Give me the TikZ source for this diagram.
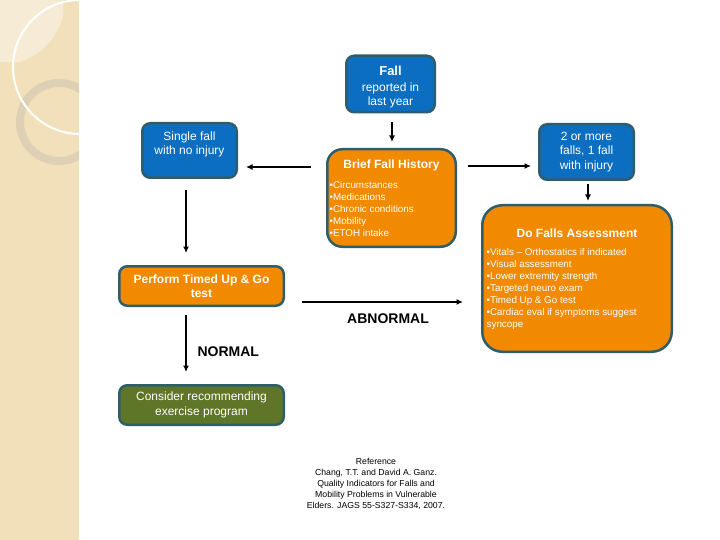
\documentclass[tikz,border=0pt]{standalone}
\usepackage{fontspec}
\setmainfont{Liberation Sans}
\usetikzlibrary{arrows.meta}
\definecolor{boxblue}{HTML}{0B6EC0}
\definecolor{boxorange}{HTML}{F28A00}
\definecolor{boxgreen}{HTML}{5F7628}
\definecolor{boxedge}{HTML}{2D5E69}
\definecolor{strip}{HTML}{F1E0B9}
\definecolor{striplight}{HTML}{F6ECD6}
\definecolor{ringcol}{HTML}{DED0B4}
\begin{document}
\begin{tikzpicture}[x=1pt,y=-1pt,
  box/.style={draw=boxedge, line width=2.5pt, text=white, align=center, inner sep=0pt},
  bluebox/.style={box, fill=boxblue, rounded corners=8pt},
  orangebox/.style={box, fill=boxorange, rounded corners=#1},
  orangebox/.default=8pt,
  greenbox/.style={box, fill=boxgreen, rounded corners=8pt},
  boxtext/.style={font=\fontsize{12}{14.5}\selectfont},
  titletext/.style={text=white, font=\fontsize{12}{14}\selectfont\bfseries},
  bullettext/.style={text=white, align=left, inner sep=0pt, anchor=north west,
    font=\fontsize{9.8}{12}\selectfont},
  lbl/.style={font=\fontsize{14}{16}\selectfont\bfseries},
  arr/.style={line width=1.8pt, -{Latex[length=6.5pt,width=6pt]}},
]
\useasboundingbox (0,0) rectangle (720,540);
\fill[white] (0,0) rectangle (720,540);
% decorative strip
\fill[strip] (0,0) rectangle (79,540);
\begin{scope}
  \clip (0,0) rectangle (63,62);
  \fill[striplight] (0,0) circle[radius=65];
\end{scope}
\begin{scope}
  \clip (0,0) rectangle (79,540);
  \draw[ringcol, line width=8pt] (59,122) circle[radius=39];
  \draw[white, line width=2pt] (80,67) circle[radius=67];
\end{scope}

% boxes
\node[bluebox, minimum width=88.5pt, minimum height=56.5pt] (fall) at (390.5,84) {};
\node[text=white, align=center, boxtext] (fallt) at (390.5,87)
  {{\fontsize{13}{15}\selectfont\bfseries Fall}\\[1.5pt]reported in\\last year};
\node[orangebox=15pt, minimum width=128.5pt, minimum height=97.5pt] (brief) at (391.5,198) {};
\node[titletext] (brieft) at (391.5,165) {Brief Fall History};
\node[bullettext] (briefb) at (329.5,181) {•Circumstances\\•Medications\\•Chronic conditions\\•Mobility\\•ETOH intake};

\node[bluebox, minimum width=94.5pt, minimum height=54.5pt] (single) at (189.5,150.5) {};
\node[text=white, align=center, boxtext] (singlet) at (189.5,144.5) {Single fall\\with no injury};

\node[bluebox, boxtext, minimum width=94.5pt, minimum height=55.5pt] (two) at (586.5,152)
  {2 or more\\falls, 1 fall\\with injury};

\node[orangebox=20pt, minimum width=189.5pt, minimum height=146.5pt] (do) at (577,278.5) {};
\node[titletext] (dot) at (577,233) {Do Falls Assessment};
\node[bullettext] (dob) at (486.5,248) {•Vitals – Orthostatics if indicated\\•Visual assessment\\•Lower extremity strength\\•Targeted neuro exam\\•Timed Up \& Go test\\•Cardiac eval if symptoms suggest\\syncope};

\node[orangebox, minimum width=164.5pt, minimum height=39.5pt,
  font=\fontsize{12}{14}\selectfont\bfseries] (perform) at (201.5,286)
  {Perform Timed Up \& Go\\test};

\node[greenbox, boxtext, minimum width=164.5pt, minimum height=39.5pt] (consider) at (201.5,405)
  {Consider recommending\\exercise program};

% labels
\node[lbl, anchor=west] (normal) at (194,352) {NORMAL};
\node[lbl] (abnormal) at (388,319) {ABNORMAL};
\node[align=center, font=\fontsize{8.7}{11}\selectfont] (ref) at (376,484)
  {Reference\\Chang, T.T. and David A. Ganz.\\Quality Indicators for Falls and\\Mobility Problems in Vulnerable\\Elders. JAGS 55-S327-S334, 2007.};

% connectors
\coordinate (sgin) at ([yshift=-16.5pt]single.east);
\coordinate (twoin) at ([yshift=-14pt]two.west);
\coordinate (perfout) at ([yshift=-16pt]perform.east);
\coordinate (sgout) at ([xshift=-3.5pt]single.south);
\coordinate (perfdown) at ([xshift=-15.5pt]perform.south);

\draw[arr, shorten <=9pt, shorten >=6pt] ([xshift=1.5pt]fall.south) -- ([xshift=0.5pt]brief.north);
\draw[arr, shorten <=15pt, shorten >=8pt] (brief.west |- sgin) -- (sgin);
\draw[arr, shorten <=11pt, shorten >=7pt] (brief.east |- twoin) -- (twoin);
\draw[arr, shorten <=3pt, shorten >=3pt] ([xshift=1.5pt]two.south) -- ([xshift=1.5pt]two.south |- do.north);
\draw[arr, shorten <=11pt, shorten >=12pt] (sgout) -- (sgout |- perform.north);
\draw[arr, shorten <=8pt, shorten >=12pt] (perfdown) -- (perfdown |- consider.north);
\draw[arr, shorten <=17pt, shorten >=18pt] (perfout) -- (do.west |- perfout);
\end{tikzpicture}
\end{document}
